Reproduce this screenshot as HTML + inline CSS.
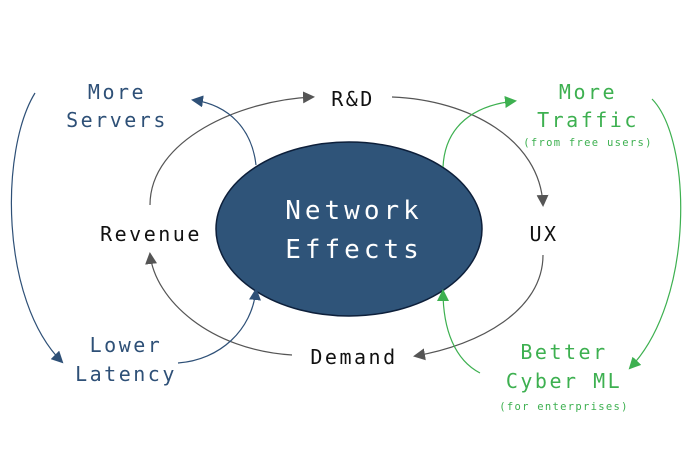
<!DOCTYPE html>
<html><head><style>
html,body{margin:0;padding:0;background:#fff;}
svg{display:block;}
text{font-family:"DejaVu Sans Mono","Liberation Mono",monospace;text-anchor:middle;}
</style></head><body>
<svg width="700" height="464" viewBox="0 0 700 464" xmlns="http://www.w3.org/2000/svg">
<defs>
<marker id="ag" markerWidth="12" markerHeight="12" refX="10" refY="6" orient="auto" markerUnits="userSpaceOnUse"><path d="M0,0 L12,6 L0,12 z" fill="#555"/></marker>
<marker id="ab" markerWidth="12" markerHeight="12" refX="10" refY="6" orient="auto" markerUnits="userSpaceOnUse"><path d="M0,0 L12,6 L0,12 z" fill="#2e5077"/></marker>
<marker id="agr" markerWidth="12" markerHeight="12" refX="10" refY="6" orient="auto" markerUnits="userSpaceOnUse"><path d="M0,0 L12,6 L0,12 z" fill="#3db050"/></marker>
</defs>
<ellipse cx="349" cy="229" rx="133" ry="87" fill="#2f5479" stroke="#0d1f3a" stroke-width="1.5"/>
<g fill="none" stroke-width="1.2">
<path d="M150,205 C150,140 240,100 313,97" stroke="#555" marker-end="url(#ag)"/>
<path d="M392,97 C470,100 540,140 543,205" stroke="#555" marker-end="url(#ag)"/>
<path d="M543,255 C543,310 480,345 415,356" stroke="#555" marker-end="url(#ag)"/>
<path d="M292,355 C210,350 155,300 150,254" stroke="#555" marker-end="url(#ag)"/>
<path d="M256,165 C252,130 230,105 193,100" stroke="#2e5077" marker-end="url(#ab)"/>
<path d="M35,93 C0,150 0,300 62,362" stroke="#2e5077" marker-end="url(#ab)"/>
<path d="M178,363 C220,360 252,330 256,290" stroke="#2e5077" marker-end="url(#ab)"/>
<path d="M443,167 C445,125 475,105 515,101" stroke="#3db050" marker-end="url(#agr)"/>
<path d="M652,99 C692,140 695,300 630,368" stroke="#3db050" marker-end="url(#agr)"/>
<path d="M480,373 C455,360 443,330 443,291" stroke="#3db050" marker-end="url(#agr)"/>
</g>
<g font-size="26" fill="#fff" letter-spacing="4">
<text x="354" y="219">Network</text>
<text x="354" y="258">Effects</text>
</g>
<g font-size="20" fill="#111" letter-spacing="2.5">
<text x="353" y="106">R&amp;D</text>
<text x="151" y="241">Revenue</text>
<text x="544" y="241">UX</text>
<text x="354" y="364">Demand</text>
</g>
<g font-size="20" fill="#2e5077" letter-spacing="2.5">
<text x="117" y="99">More</text>
<text x="117" y="127">Servers</text>
<text x="126" y="352">Lower</text>
<text x="126" y="381">Latency</text>
</g>
<g font-size="20" fill="#3db050" letter-spacing="2.5">
<text x="588" y="99">More</text>
<text x="588" y="127">Traffic</text>
<text x="564" y="359">Better</text>
<text x="564" y="388">Cyber ML</text>
</g>
<g font-size="10.5" fill="#3db050" letter-spacing="1.3">
<text x="588" y="146">(from free users)</text>
<text x="564" y="410">(for enterprises)</text>
</g>
</svg>
</body></html>
